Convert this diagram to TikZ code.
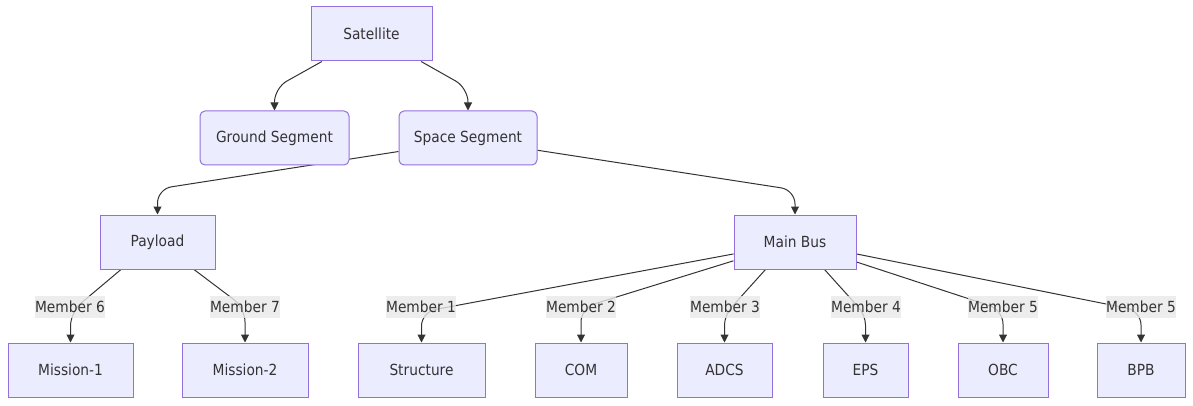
\documentclass[tikz,border=0pt]{standalone}
\usepackage{fontspec}
\setmainfont{DejaVu Sans Condensed}
\usetikzlibrary{arrows.meta,backgrounds}
\definecolor{nfill}{HTML}{ECECFF}
\definecolor{nline}{HTML}{9370DB}
\definecolor{eline}{HTML}{333333}
\definecolor{lfill}{HTML}{E8E8E8}
\definecolor{tcol}{HTML}{333333}
\begin{document}
\begin{tikzpicture}[x=1pt,y=-1pt,
 box/.style={draw=nline,fill=nfill,line width=1pt,minimum height=54pt,inner sep=0pt,font=\fontsize{15.3}{18}\selectfont,text=tcol},
 rbox/.style={box,rounded corners=5pt},
 lbl/.style={fill=lfill,fill opacity=0.8,text opacity=1,inner sep=0pt,minimum height=22pt,minimum width=70pt,font=\fontsize{15.3}{18}\selectfont,text=tcol},
 arr/.style={draw=eline,line width=1pt,-{Triangle[length=8pt,width=8pt]},rounded corners=14pt}]
\useasboundingbox (0,0) rectangle (1193,406);
\node[box, minimum width=121pt] (sat) at (371.5,34) {Satellite};
\node[rbox, minimum width=149pt] (gs) at (274.5,138) {Ground Segment};
\node[rbox, minimum width=138pt] (ss) at (468,138) {Space Segment};
\node[box, minimum width=115pt] (pl) at (157.5,242) {Payload};
\node[box, minimum width=122pt] (mb) at (795,242) {Main Bus};
\node[box, minimum width=125pt] (m1) at (70.5,370) {Mission-1};
\node[box, minimum width=126pt] (m2) at (245,370) {Mission-2};
\node[box, minimum width=127pt] (st) at (421.5,370) {Structure};
\node[box, minimum width=92pt] (com) at (581,370) {COM};
\node[box, minimum width=95pt] (adcs) at (724.5,370) {ADCS};
\node[box, minimum width=85pt] (eps) at (865.5,370) {EPS};
\node[box, minimum width=90pt] (obc) at (1003,370) {OBC};
\node[box, minimum width=88pt] (bpb) at (1141,370) {BPB};
\begin{pgfonlayer}{background}
\draw[arr] (sat.209) -- (gs.north |- 0,88) -- (gs.north);
\draw[arr] (sat.331) -- (ss.north |- 0,88) -- (ss.north);
\draw[arr] (ss.191) -- (pl.north |- 0,189) -- (pl.north);
\draw[arr] (ss.350) -- (mb.north |- 0,190) -- (mb.north);
\draw[arr] (pl.217) -- (m1.north |- 0,312) -- (m1.north);
\draw[arr] (pl.323) -- (m2.north |- 0,308) -- (m2.north);
\draw[arr] (mb.191) -- (st.north |- 0,312) -- (st.north);
\draw[arr] (mb.197) -- (com.north |- 0,308) -- (com.north);
\draw[arr,rounded corners=10pt] (mb.223) -- (adcs.north |- 0,315) -- (adcs.north);
\draw[arr,rounded corners=10pt] (mb.317) -- (eps.north |- 0,315) -- (eps.north);
\draw[arr] (mb.342) -- (obc.north |- 0,310) -- (obc.north);
\draw[arr] (mb.349) -- (bpb.north |- 0,311) -- (bpb.north);
\end{pgfonlayer}
\node[lbl] (l6) at (70,307) {Member 6};
\node[lbl] (l7) at (245,307) {Member 7};
\node[lbl] (l1) at (421,307) {Member 1};
\node[lbl] (l2) at (581,307) {Member 2};
\node[lbl] (l3) at (725,307) {Member 3};
\node[lbl] (l4) at (866,307) {Member 4};
\node[lbl] (l5) at (1003,307) {Member 5};
\node[lbl] (l5b) at (1141,307) {Member 5};
\end{tikzpicture}
\end{document}
